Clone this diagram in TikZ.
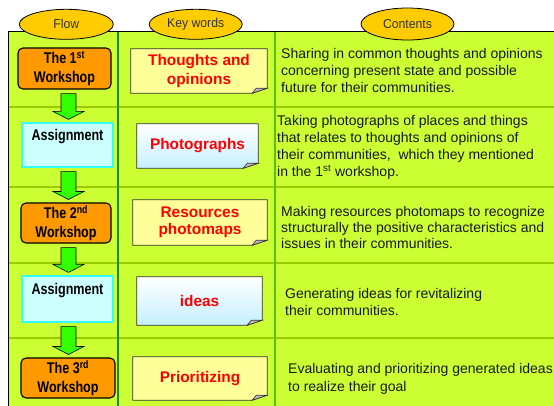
\documentclass[tikz,border=0pt]{standalone}
\usepackage{fontspec}
\setmainfont{Liberation Sans}
\newfontfamily\condfont[FakeStretch=0.81]{Liberation Sans}
\newfontfamily\headfont[FakeStretch=0.94]{Liberation Sans}
\usetikzlibrary{shapes.geometric,calc}
\definecolor{tabfill}{HTML}{CCFF33}
\definecolor{rowline}{HTML}{99CC00}
\definecolor{colone}{HTML}{1E8C00}
\definecolor{coltwo}{HTML}{55C400}
\definecolor{headgold}{HTML}{FFCC00}
\definecolor{wsorange}{HTML}{FF9900}
\definecolor{asgfill}{HTML}{CCFFFF}
\definecolor{asgcyan}{HTML}{33FFFF}
\definecolor{noteyellow}{HTML}{FFFF99}
\definecolor{notecyan}{HTML}{C4F0FF}
\definecolor{arrowgreen}{HTML}{33FF00}
\definecolor{kwred}{HTML}{FF0000}

\newcommand\flowarrow[2]{%
  \path[flowarrowstyle] let \p1=(#1.south), \p2=(#2.north) in
    (61pt,\y1-4pt) -- (76pt,\y1-4pt) -- (76pt,\y2+11pt) -- (84pt,\y2+11pt)
    -- (68.5pt,\y2+3pt) -- (53pt,\y2+11pt) -- (61pt,\y2+11pt) -- cycle;}

\newcommand\notebox[6]{%
  \node[minimum width=#3,minimum height=#4,inner sep=0pt] (#1) at #2 {};
  \draw[notepath,#5] (#1.north west) -- (#1.north east) -- ([yshift=5pt]#1.south east)
    -- ([xshift=-15pt]#1.south east) -- (#1.south west) -- cycle;
  \draw[fold] ([xshift=-15pt]#1.south east) -- ([xshift=-11pt,yshift=5pt]#1.south east)
    -- ([yshift=5pt]#1.south east) -- cycle;
  \node[kw] (#1t) at (#1.center) {#6};}

\begin{document}
\begin{tikzpicture}[x=1pt,y=-1pt,
  head/.style={ellipse,draw=black,line width=0.8pt,fill=headgold,inner sep=0pt,
    minimum height=30pt,font=\headfont\fontsize{13}{15}\selectfont,text=black!80},
  wsbox/.style={draw=black,line width=1.1pt,rounded corners=5pt,fill=wsorange,
    align=center,inner sep=0pt,font=\condfont\bfseries\fontsize{15.5}{19}\selectfont},
  asgbox/.style={draw=asgcyan,line width=1.2pt,fill=asgfill,inner sep=0pt},
  asgtext/.style={font=\condfont\bfseries\fontsize{15.5}{17}\selectfont,inner sep=0pt},
  kw/.style={inner sep=0pt,align=center,text=kwred,font=\bfseries\fontsize{15.4}{19}\selectfont},
  notepath/.style={draw=black!80,line width=0.8pt},
  fold/.style={draw=black!80,line width=0.6pt,fill=black!25},
  ctext/.style={anchor=north west,inner sep=0pt,align=left,
    font=\fontsize{14}{17}\selectfont,text=black!90},
  flowarrowstyle/.style={draw=black,line width=0.6pt,fill=arrowgreen},
]
\useasboundingbox (0,0) rectangle (554,405);
\clip (0,0) rectangle (554,405);

% table
\fill[tabfill] (8,31) rectangle (560,410);
\foreach \yy in {107,187,263,338}
  \draw[rowline,line width=2.5pt] (8,\yy) -- (560,\yy);
\draw[colone,line width=1.2pt] (118,31) -- (118,410);
\draw[coltwo,line width=2pt] (275,31) -- (275,410);
\draw[black,line width=0.9pt] (8,410) -- (8,31) -- (560,31);

% headings
\node[head,minimum width=94pt] (hflow) at (66.3,24.3) {Flow};
\node[head,minimum width=93pt] (hkey) at (195.7,24.3) {Key words};
\node[head,minimum width=93pt,minimum height=32pt] (hcont) at (407.5,24) {Contents};

% flow column
\node[wsbox,minimum width=93pt,minimum height=41pt] (ws1) at (64.5,68.5) {The 1\textsuperscript{st}\\Workshop};
\node[asgbox,minimum width=91pt,minimum height=44pt] (a1) at (67.5,145) {};
\node[asgtext] (a1t) at (67.5,137) {Assignment};
\node[wsbox,minimum width=90pt,minimum height=40pt] (ws2) at (66,223) {The 2\textsuperscript{nd}\\Workshop};
\node[asgbox,minimum width=91pt,minimum height=46pt] (a2) at (67.5,299) {};
\node[asgtext] (a2t) at (67.5,291) {Assignment};
\node[wsbox,minimum width=94pt,minimum height=40pt] (ws3) at (68,378) {The 3\textsuperscript{rd}\\Workshop};

\flowarrow{ws1}{a1}
\flowarrow{a1}{ws2}
\flowarrow{ws2}{a2}
\flowarrow{a2}{ws3}

% key words
\notebox{k1}{(199,71)}{136pt}{44pt}{fill=noteyellow}{Thoughts and\\opinions}
\notebox{k2}{(197.5,146)}{121pt}{44pt}{top color=white,bottom color=notecyan}{Photographs}
\notebox{k3}{(200,222.5)}{134pt}{45pt}{fill=noteyellow}{Resources\\[-2pt]photomaps}
\notebox{k4}{(199.5,301)}{125pt}{48pt}{top color=white,bottom color=notecyan}{ideas}
\notebox{k5}{(200,378.5)}{134pt}{43pt}{fill=noteyellow}{Prioritizing}

% contents
\node[ctext] (c1) at (281,48) {Sharing in common thoughts and opinions\\concerning present state and possible\\future for their communities.};
\node[ctext] (c2) at (277,115) {Taking photographs of places and things\\that relates to thoughts and opinions of\\their communities,\ \ which they mentioned\\in the 1\textsuperscript{st} workshop.};
\node[ctext,font=\fontsize{14}{16.3}\selectfont] (c3) at (281,206) {Making resources photomaps to recognize\\structurally the positive characteristics and\\issues in their communities.};
\node[ctext] (c4) at (285,288) {Generating ideas for revitalizing\\their communities.};
\node[ctext,font=\fontsize{14}{17.7}\selectfont] (c5) at (288,363) {Evaluating and prioritizing generated ideas\\to realize their goal};
\end{tikzpicture}
\end{document}
